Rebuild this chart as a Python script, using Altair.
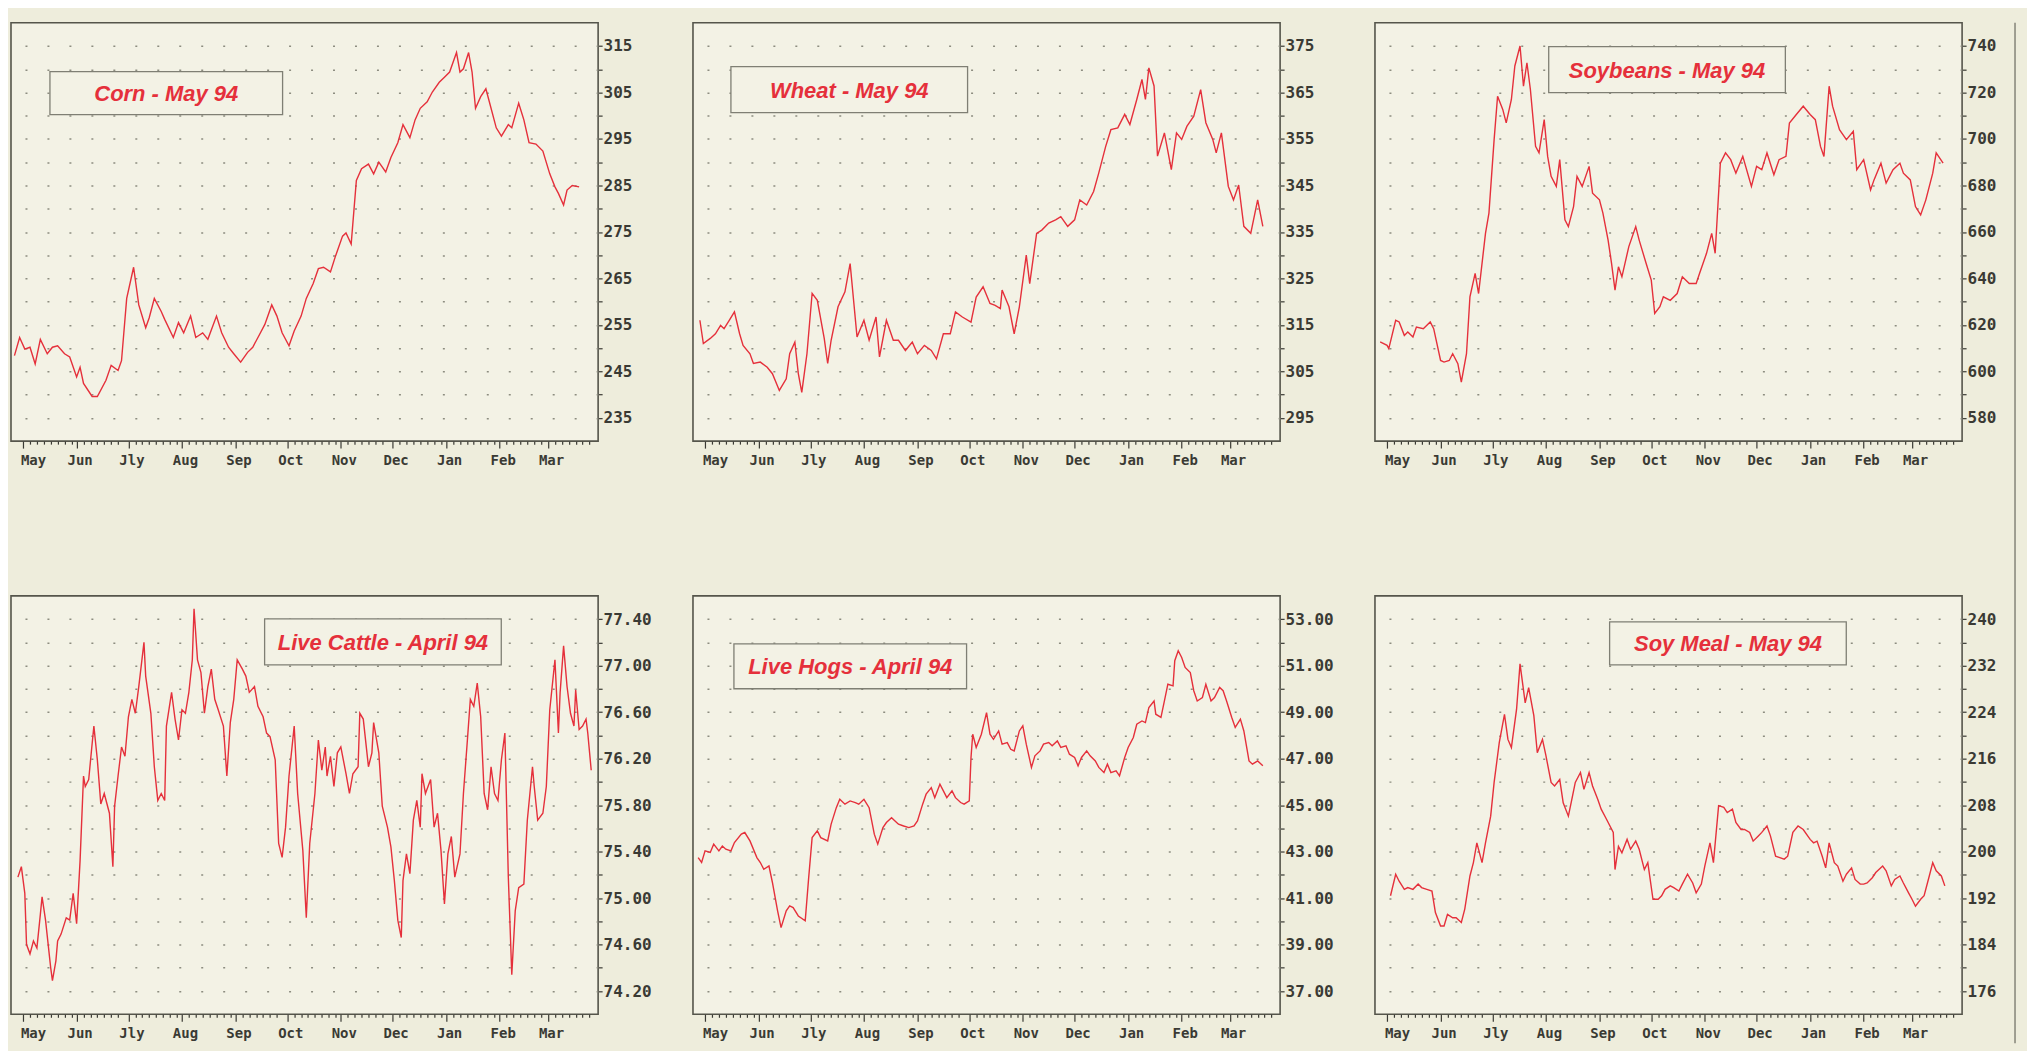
import altair as alt
import pandas as pd

# ---------------- data ----------------
MONTH_STARTS = [0, 31, 61, 92, 123, 153, 184, 214, 245, 276, 304]   # days since 1 May 1993
MONTH_LABELS = ["May", "Jun", "Jly", "Aug", "Sep", "Oct", "Nov", "Dec", "Jan", "Feb", "Mar"]

CORN_DAYS = [-5, -2, 1, 4, 7, 10, 14, 17, 20, 24,
             27, 31, 33, 35, 40, 43, 48, 51, 55, 57,
             60, 64, 67, 71, 73, 76, 80, 82, 87, 90,
             93, 97, 100, 104, 107, 112, 115, 119, 122, 126,
             130, 133, 137, 140, 144, 147, 150, 154, 157, 161,
             164, 168, 171, 174, 178, 181, 185, 187, 190, 193,
             196, 200, 203, 206, 210, 213, 217, 220, 224, 227,
             230, 234, 237, 241, 244, 247, 251, 253, 255, 258,
             260, 262, 265, 268, 270, 274, 277, 281, 283, 287,
             290, 293, 297, 301, 305, 308, 310, 313, 315, 318,
             322]
CORN_PRICES = [248.4, 252.3, 249.8, 250.2, 246.6, 251.9, 248.8, 250.2, 250.5, 248.8,
               248.1, 243.8, 245.9, 242.4, 239.6, 239.6, 243.1, 246.3, 245.2, 247.3,
               260.7, 267.4, 259.3, 254.4, 256.5, 260.7, 257.9, 256.2, 252.3, 255.5,
               253.3, 256.9, 252.3, 253.3, 251.9, 256.9, 253.3, 250.2, 248.8, 247.0,
               249.1, 250.2, 253.0, 255.1, 259.3, 256.9, 253.3, 250.5, 253.7, 256.9,
               260.7, 263.9, 267.1, 267.4, 266.4, 269.9, 274.1, 274.8, 272.4, 286.1,
               288.6, 289.6, 287.5, 290.0, 287.9, 291.0, 294.2, 298.1, 295.3, 299.1,
               301.6, 303.0, 305.1, 307.2, 308.3, 309.4, 313.6, 309.4, 310.1, 313.6,
               309.4, 301.6, 304.1, 305.8, 303.0, 297.4, 295.6, 298.1, 297.4, 302.7,
               299.1, 294.2, 293.9, 292.4, 287.5, 284.7, 283.3, 280.8, 284.0, 285.0,
               284.7]

WHEAT_DAYS = [-3, -1, 3, 6, 9, 11, 14, 17, 20, 22,
              26, 28, 32, 36, 39, 43, 47, 49, 52, 54,
              56, 59, 62, 65, 69, 71, 73, 77, 81, 84,
              88, 92, 95, 99, 101, 105, 109, 112, 116, 120,
              123, 127, 131, 134, 138, 142, 145, 149, 154, 157,
              161, 165, 168, 171, 172, 176, 179, 182, 186, 188,
              192, 195, 199, 203, 206, 210, 214, 217, 221, 225,
              228, 232, 235, 239, 243, 246, 250, 253, 255, 257,
              260, 262, 266, 270, 273, 276, 279, 283, 287, 290,
              294, 296, 299, 303, 306, 309, 312, 316, 320, 323]
WHEAT_PRICES = [316.0, 311.0, 312.1, 313.1, 314.9, 314.2, 316.0, 317.8, 313.1, 310.6,
                308.8, 306.7, 307.0, 305.9, 304.5, 300.9, 303.4, 308.8, 311.3, 304.5,
                300.5, 308.8, 321.8, 320.3, 312.1, 306.7, 311.7, 318.9, 322.1, 328.2,
                312.4, 316.0, 311.7, 316.7, 308.1, 316.0, 311.7, 311.7, 309.5, 311.3,
                308.8, 310.6, 309.5, 307.7, 313.1, 313.1, 317.8, 316.7, 315.6, 321.0,
                323.2, 319.6, 319.2, 318.5, 322.5, 318.9, 313.1, 318.9, 330.0, 323.9,
                334.7, 335.4, 336.9, 337.6, 338.3, 336.2, 337.6, 341.9, 340.8, 343.7,
                347.7, 353.4, 357.0, 357.4, 360.3, 358.1, 363.5, 367.8, 363.5, 370.3,
                366.4, 351.3, 356.3, 348.4, 356.3, 354.9, 357.7, 359.9, 365.6, 358.5,
                354.9, 352.0, 356.3, 344.8, 341.9, 345.1, 336.2, 334.7, 341.9, 336.2]

SOY_DAYS = [-4, 0, 1, 5, 7, 10, 12, 15, 17, 21,
            25, 27, 31, 33, 36, 38, 41, 43, 46, 48,
            51, 53, 57, 59, 62, 64, 67, 69, 72, 74,
            77, 79, 81, 83, 86, 88, 91, 93, 95, 98,
            100, 103, 105, 108, 110, 113, 117, 119, 123, 125,
            128, 130, 132, 134, 136, 140, 144, 146, 150, 153,
            155, 158, 160, 164, 168, 171, 175, 179, 181, 185,
            188, 190, 193, 196, 199, 202, 206, 211, 214, 217,
            220, 224, 227, 231, 233, 237, 241, 245, 248, 251,
            253, 256, 258, 262, 266, 270, 272, 276, 280, 282,
            286, 289, 293, 297, 299, 303, 306, 309, 312, 316,
            318, 322]
SOY_PRICES = [612.7, 611.2, 609.8, 622.0, 621.3, 615.5, 617.0, 614.8, 619.1, 618.4,
              621.3, 618.4, 604.7, 604.0, 604.7, 607.6, 603.3, 595.4, 607.6, 632.1,
              642.2, 633.5, 659.4, 668.1, 699.7, 718.4, 712.7, 706.9, 717.0, 731.4,
              740.0, 722.7, 732.8, 721.3, 696.8, 694.0, 708.3, 692.5, 683.9, 679.6,
              691.1, 665.2, 662.3, 670.9, 683.9, 679.6, 688.2, 676.7, 673.8, 668.1,
              656.5, 646.5, 635.0, 645.0, 640.7, 653.7, 662.3, 656.5, 646.5, 639.3,
              624.9, 627.8, 632.1, 630.6, 633.5, 640.7, 637.8, 637.8, 642.2, 650.8,
              659.4, 650.8, 689.6, 694.0, 691.1, 685.3, 692.5, 679.6, 688.2, 686.8,
              694.0, 684.6, 691.1, 692.5, 706.9, 710.5, 714.1, 710.5, 708.3, 696.8,
              692.5, 722.7, 714.1, 704.0, 699.7, 703.3, 686.8, 691.1, 678.1, 682.4,
              689.6, 681.0, 686.8, 689.6, 685.3, 682.4, 670.9, 667.3, 673.8, 685.3,
              694.0, 689.6]

CATTLE_DAYS = [-3, -1, 1, 2, 4, 6, 8, 10, 11, 13,
               16, 17, 19, 20, 22, 25, 27, 29, 31, 33,
               35, 36, 38, 40, 41, 43, 45, 47, 50, 52,
               53, 55, 57, 59, 61, 63, 65, 67, 70, 71,
               74, 76, 78, 80, 82, 83, 86, 88, 90, 92,
               94, 96, 98, 99, 101, 103, 105, 107, 109, 111,
               113, 116, 118, 120, 122, 124, 127, 129, 131, 134,
               136, 139, 141, 143, 146, 148, 150, 152, 154, 157,
               159, 162, 164, 166, 169, 171, 173, 175, 176, 178,
               180, 182, 184, 187, 189, 191, 194, 195, 197, 200,
               202, 203, 206, 208, 211, 213, 215, 217, 219, 220,
               222, 224, 226, 228, 230, 231, 233, 236, 238, 240,
               242, 244, 246, 248, 250, 253, 255, 257, 259, 261,
               263, 265, 267, 269, 271, 273, 275, 277, 279, 281,
               283, 285, 287, 290, 292, 295, 296, 298, 301, 303,
               305, 308, 310, 311, 313, 315, 317, 319, 320, 322,
               324, 326, 327, 329]
CATTLE_PRICES = [75.18, 75.27, 75.04, 74.60, 74.52, 74.63, 74.57, 74.86, 75.01, 74.81,
                 74.40, 74.29, 74.46, 74.63, 74.69, 74.83, 74.81, 75.04, 74.78, 75.32,
                 76.05, 75.96, 76.02, 76.33, 76.48, 76.19, 75.81, 75.90, 75.73, 75.27,
                 75.79, 76.05, 76.30, 76.22, 76.56, 76.71, 76.59, 76.82, 77.20, 76.91,
                 76.59, 76.13, 75.84, 75.90, 75.84, 76.48, 76.77, 76.54, 76.36, 76.62,
                 76.59, 76.77, 77.05, 77.49, 77.05, 76.94, 76.59, 76.82, 76.97, 76.71,
                 76.62, 76.48, 76.05, 76.51, 76.71, 77.05, 76.97, 76.91, 76.77, 76.82,
                 76.65, 76.56, 76.42, 76.39, 76.19, 75.47, 75.35, 75.61, 76.05, 76.48,
                 75.90, 75.41, 74.83, 75.47, 75.90, 76.36, 76.10, 76.30, 76.05, 76.22,
                 75.96, 76.25, 76.30, 76.07, 75.90, 76.07, 76.13, 76.59, 76.54, 76.13,
                 76.25, 76.51, 76.25, 75.79, 75.61, 75.44, 75.15, 74.81, 74.66, 75.15,
                 75.38, 75.21, 75.67, 75.84, 75.61, 76.07, 75.90, 76.02, 75.61, 75.73,
                 75.41, 74.95, 75.38, 75.53, 75.18, 75.38, 75.90, 76.30, 76.71, 76.65,
                 76.85, 76.56, 75.90, 75.76, 76.13, 75.90, 75.84, 76.19, 76.42, 75.18,
                 74.34, 74.89, 75.09, 75.12, 75.67, 76.13, 75.96, 75.67, 75.73, 75.96,
                 76.62, 77.05, 76.42, 76.77, 77.17, 76.82, 76.59, 76.48, 76.79, 76.45,
                 76.48, 76.54, 76.42, 76.10]

HOGS_DAYS = [-4, -2, 0, 3, 5, 8, 10, 12, 15, 17,
             21, 23, 26, 30, 32, 34, 37, 39, 42, 44,
             47, 49, 51, 54, 58, 60, 62, 65, 67, 71,
             73, 76, 78, 81, 84, 87, 89, 92, 95, 98,
             100, 103, 105, 108, 110, 112, 115, 118, 121, 123,
             126, 128, 131, 133, 136, 138, 140, 143, 145, 148,
             150, 153, 154, 155, 157, 160, 163, 165, 167, 170,
             172, 175, 177, 179, 182, 184, 186, 189, 191, 194,
             196, 199, 201, 204, 206, 209, 211, 214, 216, 218,
             221, 223, 226, 228, 231, 233, 235, 238, 240, 243,
             245, 248, 250, 253, 255, 257, 260, 261, 264, 266,
             268, 271, 272, 274, 276, 278, 281, 283, 285, 288,
             290, 293, 295, 298, 300, 302, 305, 307, 310, 312,
             315, 317, 320, 323]
HOGS_PRICES = [42.74, 42.53, 43.03, 42.96, 43.32, 43.03, 43.24, 43.10, 43.03, 43.39,
               43.75, 43.82, 43.46, 42.74, 42.53, 42.24, 42.38, 41.67, 40.45, 39.73,
               40.45, 40.66, 40.59, 40.23, 40.02, 41.88, 43.60, 43.89, 43.60, 43.46,
               44.18, 44.89, 45.25, 45.04, 45.18, 45.11, 45.04, 45.25, 44.89, 43.75,
               43.32, 44.03, 44.25, 44.46, 44.32, 44.18, 44.10, 44.03, 44.10, 44.32,
               45.04, 45.47, 45.75, 45.32, 45.90, 45.61, 45.32, 45.61, 45.32, 45.11,
               45.04, 45.18, 47.05, 48.05, 47.48, 48.05, 48.98, 48.05, 47.83, 48.19,
               47.62, 47.69, 47.40, 47.33, 48.19, 48.41, 47.62, 46.62, 47.12, 47.33,
               47.62, 47.69, 47.55, 47.76, 47.48, 47.55, 47.19, 47.05, 46.69, 47.05,
               47.33, 47.12, 46.90, 46.62, 46.40, 46.76, 46.40, 46.47, 46.26, 47.05,
               47.48, 47.91, 48.48, 48.62, 48.55, 49.20, 49.48, 48.91, 48.77, 49.48,
               50.20, 50.13, 51.21, 51.64, 51.35, 50.92, 50.70, 49.92, 49.48, 49.63,
               50.20, 49.48, 49.63, 50.06, 49.92, 49.48, 48.77, 48.34, 48.70, 48.19,
               46.90, 46.76, 46.90, 46.69]

MEAL_DAYS = [2, 5, 7, 10, 12, 15, 18, 20, 23, 26,
             28, 31, 33, 35, 38, 40, 43, 45, 48, 50,
             52, 55, 57, 60, 62, 65, 68, 70, 72, 75,
             77, 80, 82, 85, 87, 90, 92, 95, 97, 100,
             102, 105, 107, 109, 112, 114, 117, 119, 122, 124,
             127, 131, 132, 134, 136, 139, 141, 144, 146, 149,
             151, 154, 157, 159, 161, 164, 166, 169, 171, 174,
             177, 179, 182, 184, 187, 189, 192, 195, 197, 200,
             202, 205, 207, 210, 212, 215, 217, 220, 222, 225,
             227, 230, 232, 235, 238, 241, 245, 247, 249, 252,
             254, 256, 259, 261, 264, 266, 269, 271, 274, 276,
             278, 281, 283, 287, 289, 292, 294, 297, 299, 302,
             304, 306, 309, 311, 314, 316, 318, 321, 323]
MEAL_PRICES = [192.4, 196.1, 194.9, 193.5, 193.8, 193.5, 194.4, 193.8, 193.5, 193.2,
               189.5, 187.2, 187.2, 189.2, 188.6, 188.6, 187.8, 190.1, 195.8, 198.1,
               201.5, 198.1, 201.5, 206.1, 211.9, 218.8, 223.6, 219.3, 217.9, 224.5,
               232.3, 225.6, 228.2, 223.4, 217.0, 219.3, 216.5, 211.9, 211.3, 212.4,
               208.4, 206.1, 209.0, 211.9, 213.6, 210.7, 213.6, 211.3, 209.0, 207.3,
               205.6, 203.3, 196.9, 200.9, 199.8, 202.1, 200.4, 201.8, 200.4, 196.9,
               198.1, 191.8, 191.8, 192.4, 193.5, 194.1, 193.8, 193.2, 194.4, 196.1,
               194.6, 192.9, 194.4, 197.5, 201.5, 198.1, 207.9, 207.6, 206.7, 207.3,
               205.0, 203.8, 203.8, 203.3, 201.8, 202.7, 203.3, 204.4, 202.7, 199.2,
               199.0, 198.7, 199.2, 203.3, 204.4, 203.8, 202.1, 201.5, 201.8, 199.2,
               197.2, 201.5, 198.1, 197.5, 194.9, 196.1, 197.2, 195.2, 194.4, 194.4,
               194.6, 195.5, 196.4, 197.5, 196.7, 194.1, 195.2, 195.8, 194.6, 192.9,
               191.8, 190.6, 191.8, 192.4, 195.8, 198.1, 196.7, 195.8, 194.1]

# y-axis tick rows (dotted grid) and the labelled subset
CORN_GRID = [235, 240, 245, 250, 255, 260, 265, 270, 275, 280, 285, 290, 295, 300, 305, 310, 315]
CORN_LABELS = [235, 245, 255, 265, 275, 285, 295, 305, 315]
WHEAT_GRID = [295, 300, 305, 310, 315, 320, 325, 330, 335, 340, 345, 350, 355, 360, 365, 370, 375]
WHEAT_LABELS = [295, 305, 315, 325, 335, 345, 355, 365, 375]
SOY_GRID = [580, 590, 600, 610, 620, 630, 640, 650, 660, 670, 680, 690, 700, 710, 720, 730, 740]
SOY_LABELS = [580, 600, 620, 640, 660, 680, 700, 720, 740]
CATTLE_GRID = [74.2, 74.4, 74.6, 74.8, 75.0, 75.2, 75.4, 75.6, 75.8, 76.0, 76.2, 76.4, 76.6,
               76.8, 77.0, 77.2, 77.4]
CATTLE_LABELS = [74.2, 74.6, 75.0, 75.4, 75.8, 76.2, 76.6, 77.0, 77.4]
HOGS_GRID = [37, 38, 39, 40, 41, 42, 43, 44, 45, 46, 47, 48, 49, 50, 51, 52, 53]
HOGS_LABELS = [37, 39, 41, 43, 45, 47, 49, 51, 53]
MEAL_GRID = [176, 180, 184, 188, 192, 196, 200, 204, 208, 212, 216, 220, 224, 228, 232, 236, 240]
MEAL_LABELS = [176, 184, 192, 200, 208, 216, 224, 232, 240]

# ---------------- styling ----------------
W, H = 588, 419
X_DOMAIN = [-7, 333]
PAGE_BG = "#eeeddc"
PLOT_BG = "#f3f2e5"
RED = "#e5303b"
INK = "#3a3a34"
AXIS_FONT = "DejaVu Sans Mono"

# minor ticks every 4 days inside each month, plus the month starts
X_TICKS = []
for i, m in enumerate(MONTH_STARTS):
    end = MONTH_STARTS[i + 1] - 2 if i + 1 < len(MONTH_STARTS) else 330
    X_TICKS += [m + k for k in range(0, 31, 4) if m + k < end]

MS = str(MONTH_STARTS)
ML = str(MONTH_LABELS)


def panel(days, prices, ydom, grid, labels, fmt, title, box, extra=None):
    df = pd.DataFrame({"day": days, "price": prices})
    xax = alt.Axis(
        values=X_TICKS,
        labelExpr=f"indexof({MS}, datum.value) >= 0 ? {ML}[indexof({MS}, datum.value)] : ''",
        tickSize={"condition": {"test": f"indexof({MS}, datum.value) >= 0", "value": 7}, "value": 3},
        labelOffset={"condition": {"test": "datum.value == 0", "value": 10}, "value": 3},
        tickColor=INK, tickWidth=1.2, domain=False, grid=False, title=None,
        labelAlign="center", labelFont=AXIS_FONT, labelFontWeight="bold", labelFontSize=14,
        labelColor=INK, labelPadding=5, labelOverlap=False, labelFlush=False,
    )
    yax = alt.Axis(
        orient="right", values=grid, format=fmt,
        labelExpr=f"indexof({labels}, datum.value) >= 0 ? datum.label : ''",
        tickSize=4, tickColor=INK, tickWidth=1.2, domain=False, title=None,
        grid=True, gridDash=[2, 20], gridColor="#8d8d80", gridWidth=1.5,
        labelFont=AXIS_FONT, labelFontWeight="bold", labelFontSize=16, labelColor=INK,
        labelPadding=1, labelOverlap=False, labelFlush=False,
    )
    line = alt.Chart(df).mark_line(color=RED, strokeWidth=1.4).encode(
        x=alt.X("day:Q", scale=alt.Scale(domain=X_DOMAIN, nice=False, zero=False), axis=xax),
        y=alt.Y("price:Q", scale=alt.Scale(domain=ydom, nice=False, zero=False), axis=yax),
    )
    tdf = pd.DataFrame({"title": [title]})
    x1, x2, y1, y2 = box
    rect = alt.Chart(tdf).mark_rect(fill=PLOT_BG, stroke="#7f7f74", strokeWidth=1.3).encode(
        x=alt.value(x1), x2=alt.value(x2), y=alt.value(y1), y2=alt.value(y2)
    )
    text = alt.Chart(tdf).mark_text(
        font="Liberation Sans", fontStyle="italic", fontWeight="bold", fontSize=22,
        color=RED, align="center", baseline="middle",
    ).encode(x=alt.value((x1 + x2) / 2), y=alt.value((y1 + y2) / 2 + 1), text="title:N")
    layers = [rect, line, text]
    if extra is not None:
        layers.append(extra)
    return alt.layer(*layers).properties(width=W, height=H)


column_rule = alt.Chart(pd.DataFrame({"a": [0]})).mark_rule(color="#7d7d72", strokeWidth=1.4).encode(
    x=alt.value(641), y=alt.value(0), y2=alt.value(1022)
)

p1 = panel(CORN_DAYS, CORN_PRICES, [230, 320], CORN_GRID, CORN_LABELS, "d",
           "Corn - May 94", (39, 272, 49, 92))
p2 = panel(WHEAT_DAYS, WHEAT_PRICES, [290, 380], WHEAT_GRID, WHEAT_LABELS, "d",
           "Wheat - May 94", (38, 275, 44, 90))
p3 = panel(SOY_DAYS, SOY_PRICES, [570, 750], SOY_GRID, SOY_LABELS, "d",
           "Soybeans - May 94", (174, 411, 24, 70), extra=column_rule)
p4 = panel(CATTLE_DAYS, CATTLE_PRICES, [74.0, 77.6], CATTLE_GRID, CATTLE_LABELS, ".2f",
           "Live Cattle - April 94", (254, 491, 23, 69))
p5 = panel(HOGS_DAYS, HOGS_PRICES, [36, 54], HOGS_GRID, HOGS_LABELS, ".2f",
           "Live Hogs - April 94", (41, 274, 48, 93))
p6 = panel(MEAL_DAYS, MEAL_PRICES, [172, 244], MEAL_GRID, MEAL_LABELS, "d",
           "Soy Meal - May 94", (235, 472, 26, 69))

chart = alt.concat(
    p1, p2, p3, p4, p5, p6,
    columns=3, spacing={"row": 155, "column": 95}, bounds="flush",
).properties(
    padding={"left": 2, "top": 12, "right": 10, "bottom": 5},
    background=PAGE_BG,
).configure_view(stroke="#55554b", strokeWidth=1.6, fill=PLOT_BG)

chart.save("out.html", embed_options={"renderer": "svg", "actions": False})
